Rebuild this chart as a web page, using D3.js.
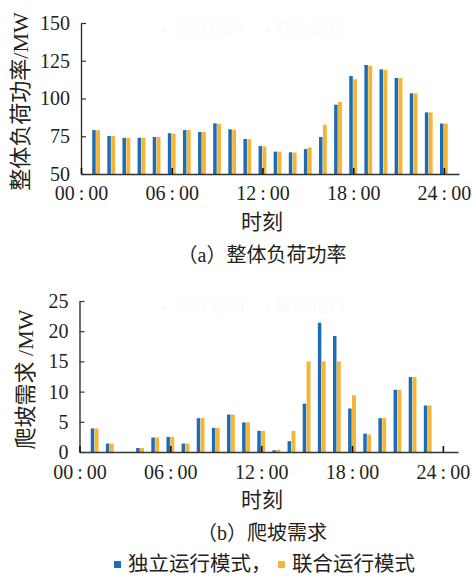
<!DOCTYPE html>
<html>
<head>
<meta charset="utf-8">
<script src="https://cdn.jsdelivr.net/npm/d3@7"></script>
<style>
  html, body { margin: 0; padding: 0; background: #fff; }
  svg { display: block; }
  text { fill: #231f20; font-family: "Liberation Serif", "Noto Sans CJK SC", serif; }
</style>
</head>
<body>
<svg id="chart" width="473" height="576"></svg>
<script>
// hourly categories (bar groups sit on the hour marks 1..24)
const hours = [1, 2, 3, 4, 5, 6, 7, 8, 9, 10, 11, 12, 13, 14, 15, 16, 17, 18, 19, 20, 21, 22, 23, 24];
const hourTicks = [0, 6, 12, 18, 24];

// (a) overall load power, MW
const loadIndep = [79.1, 75.2, 73.9, 74.0, 74.5, 77.0, 79.1, 77.8, 83.6, 79.6, 73.2, 68.5,
                   64.8, 64.4, 66.5, 74.5, 95.9, 114.9, 122.2, 119.3, 113.6, 103.4, 90.8, 83.4];
const loadJoint = [79.0, 75.2, 73.9, 74.0, 74.5, 76.6, 79.1, 77.8, 83.2, 79.3, 73.0, 68.3,
                   64.8, 64.2, 67.6, 82.6, 97.7, 112.7, 121.7, 119.1, 113.6, 103.4, 90.8, 83.4];
const loadTicks = [50, 75, 100, 125, 150];

// (b) ramping demand, MW
const rampIndep = [3.9, 1.4, 0, 0.66, 2.4, 2.5, 1.4, 5.6, 4.0, 6.2, 4.9, 3.5,
                   0.28, 1.8, 8.0, 21.4, 19.2, 7.2, 3.05, 5.6, 10.3, 12.4, 7.7, 0];
const rampJoint = [3.9, 1.4, 0, 0.66, 2.4, 2.5, 1.4, 5.6, 4.0, 6.2, 4.9, 3.5,
                   0.4, 3.5, 15.0, 15.0, 15.0, 9.4, 2.9, 5.6, 10.3, 12.4, 7.7, 0];
const rampTicks = [0, 5, 10, 15, 20, 25];

const seriesNames = ["独立运行模式，", "联合运行模式"];
const colors = ["#1d6db5", "#f6b535"];

const svg = d3.select("#chart");

function hourLabel(d) {
  return d3.format("02")(d) + "\u2009:\u200900";
}

// draws one panel: bars, axes, labels
function drawPanel(x, y, yTicks, indep, joint, yTitle, yTitleX, caption, xPad) {
  const g = svg.append("g");
  const base = y.range()[0];

  // faint ghost legend showing through at the top of the panel
  const ghostY = y.range()[1] + 11;
  const ghost = g.append("g").attr("opacity", 0.22);
  ghost.append("rect").attr("x", 162).attr("y", ghostY - 7).attr("width", 5).attr("height", 5).attr("fill", "#dfe7f2");
  ghost.append("text").attr("x", 174).attr("y", ghostY).attr("font-size", 18).style("fill", "#ebeef3").text("独立运行");
  ghost.append("rect").attr("x", 265).attr("y", ghostY - 7).attr("width", 5).attr("height", 5).attr("fill", "#f6ead6");
  ghost.append("text").attr("x", 275).attr("y", ghostY).attr("font-size", 18).style("fill", "#f1eee9").text("联合运行");

  // bars of both modes, side by side around the hour mark
  g.selectAll(".bar-indep")
    .data(hours)
    .join("rect")
    .attr("class", "bar-indep")
    .attr("x", h => x(h) - 3.9)
    .attr("width", 3.5)
    .attr("y", (h, i) => y(indep[i]))
    .attr("height", (h, i) => base - y(indep[i]))
    .attr("fill", colors[0]);

  g.selectAll(".bar-joint")
    .data(hours)
    .join("rect")
    .attr("class", "bar-joint")
    .attr("x", h => x(h))
    .attr("width", 3.9)
    .attr("y", (h, i) => y(joint[i]))
    .attr("height", (h, i) => base - y(joint[i]))
    .attr("fill", colors[1]);

  // y axis, ticks point inward
  const yAxis = g.append("g")
    .attr("transform", `translate(${x.range()[0]},0)`)
    .call(d3.axisLeft(y).tickValues(yTicks).tickSizeInner(-5).tickSizeOuter(0).tickPadding(11));

  // x axis, small inward ticks
  const xAxis = g.append("g")
    .attr("transform", `translate(0,${base})`)
    .call(d3.axisBottom(x).tickValues(hourTicks).tickFormat(hourLabel)
      .tickSizeInner(-6).tickSizeOuter(0).tickPadding(xPad));

  yAxis.select(".domain").attr("stroke", "#333").attr("stroke-width", 1.4);
  yAxis.selectAll(".tick line").attr("stroke", "#333").attr("stroke-width", 1.2);
  xAxis.select(".domain").attr("stroke", "#333").attr("stroke-width", 1.6);
  xAxis.selectAll(".tick line").attr("stroke", "#111").attr("stroke-width", 1.6);
  g.selectAll(".tick text")
    .attr("font-size", 20)
    .attr("fill", "#231f20")
    .attr("font-family", "Liberation Serif, serif");

  // titles
  const midY = (y.range()[0] + y.range()[1]) / 2;
  g.append("text")
    .attr("transform", `translate(${yTitleX},${midY + 3}) rotate(-90)`)
    .attr("text-anchor", "middle")
    .attr("dominant-baseline", "central")
    .attr("font-size", 22)
    .text(yTitle);

  g.append("text")
    .attr("x", 262)
    .attr("y", base + 55)
    .attr("text-anchor", "middle")
    .attr("font-size", 21)
    .text("时刻");

  g.append("text")
    .attr("x", 262)
    .attr("y", base + 88)
    .attr("text-anchor", "middle")
    .attr("font-size", 20)
    .text(caption);
}

const xTop = d3.scaleLinear().domain([0, 25]).range([81, 459]);
const yTop = d3.scaleLinear().domain([50, 150]).range([174, 23]);
drawPanel(xTop, yTop, loadTicks, loadIndep, loadJoint, "整体负荷功率/MW", 20, "（a）整体负荷功率", 12);

const xBot = d3.scaleLinear().domain([0, 25]).range([79.5, 458]);
const yBot = d3.scaleLinear().domain([0, 25]).range([452, 301]);
drawPanel(xBot, yBot, rampTicks, rampIndep, rampJoint, "爬坡需求 /MW", 25, "（b）爬坡需求", 13);

// legend at the bottom
const legend = svg.append("g");
const legendX = [114, 278];
seriesNames.forEach((name, i) => {
  legend.append("rect")
    .attr("x", legendX[i])
    .attr("y", 561)
    .attr("width", 7)
    .attr("height", 7)
    .attr("fill", colors[i]);
  legend.append("text")
    .attr("x", legendX[i] + 14)
    .attr("y", 571)
    .attr("font-size", 20.5)
    .text(name);
});
</script>
</body>
</html>
